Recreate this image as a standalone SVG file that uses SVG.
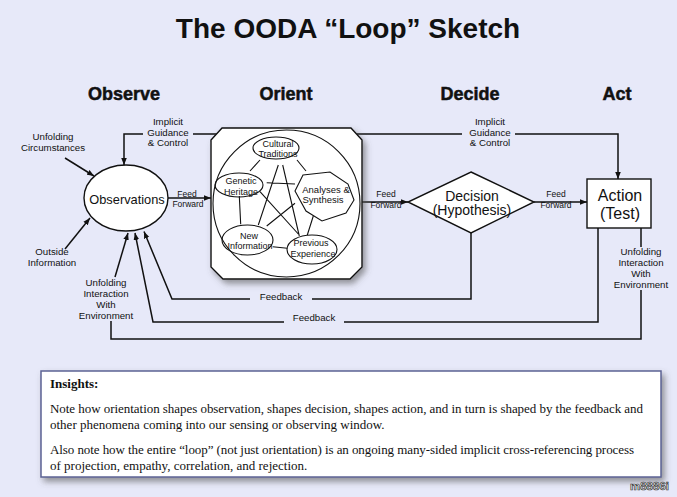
<svg xmlns="http://www.w3.org/2000/svg" width="677" height="497" viewBox="0 0 677 497">
<defs>
<style>
.t{font-family:"Liberation Sans",Arial,sans-serif;fill:#111;text-anchor:middle}
.lbl{font-size:9.7px}
.ff{font-size:8.5px}
.hdr{font-size:18px;font-weight:bold;stroke:#111;stroke-width:0.5}
.in{font-size:9px}
.ins{font-family:"Liberation Serif","Times New Roman",serif;font-size:13px;fill:#111}
.ln{fill:none;stroke:#111;stroke-width:1.5}
.arr{marker-end:url(#ah)}
.shp{fill:#fff;stroke:#111;stroke-width:1.4}
.thin{fill:none;stroke:#111;stroke-width:1.1}
</style>
<marker id="ah" viewBox="0 0 10 10" refX="10" refY="5" markerWidth="7" markerHeight="7" orient="auto" markerUnits="userSpaceOnUse">
<path d="M0,1 L10,5 L0,9 z" fill="#111"/>
</marker>
<filter id="sh" x="-10%" y="-10%" width="130%" height="130%">
<feDropShadow dx="3" dy="4" stdDeviation="3" flood-color="#555" flood-opacity="0.6"/>
</filter>
</defs>
<rect width="677" height="497" fill="#E7E9F9"/>
<text class="t" x="348" y="38" font-size="28" font-weight="bold">The OODA “Loop” Sketch</text>
<g id="headers">
<text class="t hdr" x="124" y="100">Observe</text>
<text class="t hdr" x="286" y="100">Orient</text>
<text class="t hdr" x="470" y="100">Decide</text>
<text class="t hdr" x="617" y="100">Act</text>
</g>
<g id="connectors">
<path class="ln" d="M217,134 H193"/>
<path class="ln arr" d="M143,134 H124 V165"/>
<path class="ln" d="M357,134 H462"/>
<path class="ln arr" d="M515,134 H618 V179"/>
<path class="ln arr" d="M168,198 H211"/>
<path class="ln arr" d="M362,202 H408"/>
<path class="ln arr" d="M534,202 H587"/>
<path class="ln arr" d="M65,158 L94,176"/>
<path class="ln arr" d="M65,249 L90,218"/>
<path class="ln" d="M471,233 V299 H312"/>
<path class="ln arr" d="M250,299 H172 L144,231.5"/>
<path class="ln" d="M598,228 V322 H344"/>
<path class="ln arr" d="M284,322 H153 L135,233"/>
<path class="ln" d="M641,228 V247"/>
<path class="ln" d="M641,290 V339 H111 V321"/>
<path class="ln arr" d="M115,277 L128,233"/>
<text class="t lbl" x="168" y="124.5">Implicit</text>
<text class="t lbl" x="168" y="135.5">Guidance</text>
<text class="t lbl" x="168" y="146">&amp; Control</text>
<text class="t lbl" x="490" y="124.5">Implicit</text>
<text class="t lbl" x="490" y="135.5">Guidance</text>
<text class="t lbl" x="490" y="146">&amp; Control</text>
<text class="t ff" x="187" y="197">Feed</text>
<text class="t ff" x="188" y="207">Forward</text>
<text class="t ff" x="386" y="197">Feed</text>
<text class="t ff" x="386" y="208">Forward</text>
<text class="t ff" x="556" y="197">Feed</text>
<text class="t ff" x="556" y="208">Forward</text>
<text class="t lbl" x="53" y="139.5">Unfolding</text>
<text class="t lbl" x="53" y="150.5">Circumstances</text>
<text class="t lbl" x="52" y="254.5">Outside</text>
<text class="t lbl" x="52" y="265.5">Information</text>
<text class="t lbl" x="106" y="286">Unfolding</text>
<text class="t lbl" x="106" y="297">Interaction</text>
<text class="t lbl" x="106" y="307.5">With</text>
<text class="t lbl" x="106" y="318.5">Environment</text>
<text class="t lbl" x="641" y="255">Unfolding</text>
<text class="t lbl" x="641" y="266">Interaction</text>
<text class="t lbl" x="641" y="276.5">With</text>
<text class="t lbl" x="641" y="287.5">Environment</text>
<text class="t lbl" x="281" y="299.5">Feedback</text>
<text class="t lbl" x="314" y="321">Feedback</text>
</g>
<g id="observations">
<ellipse class="shp" cx="126" cy="198" rx="42" ry="33"/>
<text class="t" x="127" y="204" font-size="12.8">Observations</text>
</g>
<g id="orient">
<path class="shp" filter="url(#sh)" d="M222,128 H351 L362,140 V267 L350,279 H223 L211,267 V140 Z"/>
<circle class="thin" cx="286.5" cy="203.5" r="73.5"/>
<g id="orient-links">
<path class="thin" d="M260,160 L250,171 M297,160 L306,171 M278.3,165 L258.3,225 M282.7,165 L299.3,236 M266.7,182.7 L295,184 M239.3,196 L240.7,224.3 M260,191.7 L298.3,234 M295,203.3 L266.7,226 M313.3,216 L307.3,235 M272.7,246.7 L287.3,248.3"/>
</g>
<g id="cultural-traditions">
<ellipse class="thin" cx="276" cy="148" rx="23" ry="11"/>
<text class="t in" x="278" y="146.5">Cultural</text>
<text class="t in" x="278" y="156.5">Traditions</text>
</g>
<g id="genetic-heritage">
<ellipse class="thin" cx="239" cy="185" rx="24" ry="12"/>
<text class="t in" x="241" y="183.5">Genetic</text>
<text class="t in" x="241" y="194.5">Heritage</text>
</g>
<g id="analyses-synthesis">
<path class="thin" d="M303,175 L330,172 L348,184 L354,200 L346,213 L322,221 L306,211 L295,191 Z"/>
<text class="t" x="326" y="192.5" font-size="9.5">Analyses &amp;</text>
<text class="t" x="323" y="203" font-size="9.5">Synthesis</text>
</g>
<g id="new-information">
<ellipse class="thin" cx="247.5" cy="240" rx="25.5" ry="15"/>
<text class="t in" x="249" y="238.5">New</text>
<text class="t in" x="250" y="248.5">Information</text>
</g>
<g id="previous-experience">
<ellipse class="thin" cx="312" cy="249.5" rx="25" ry="14.5"/>
<text class="t in" x="311" y="246">Previous</text>
<text class="t in" x="313" y="256.5">Experience</text>
</g>
</g>
<g id="decision">
<path class="shp" d="M471,172 L534,202 L471,233 L408,202 Z"/>
<text class="t" x="472" y="200.5" font-size="14">Decision</text>
<text class="t" x="472" y="215" font-size="14">(Hypothesis)</text>
</g>
<g id="action">
<rect class="shp" x="587" y="179" width="64" height="49"/>
<text class="t" x="620" y="200.5" font-size="16">Action</text>
<text class="t" x="620" y="219" font-size="16">(Test)</text>
</g>
<g id="insights">
<rect x="41" y="371" width="620" height="106" fill="#fff" stroke="#5C6394" stroke-width="1.5" filter="url(#sh)"/>
<text class="ins" x="50" y="388" font-weight="bold">Insights:</text>
<text class="ins" x="50" y="413" textLength="593" lengthAdjust="spacing">Note how orientation shapes observation, shapes decision, shapes action, and in turn is shaped by the feedback and</text>
<text class="ins" x="50" y="429">other phenomena coming into our sensing or observing window.</text>
<text class="ins" x="50" y="454" textLength="584" lengthAdjust="spacing">Also note how the entire “loop” (not just orientation) is an ongoing many-sided implicit cross-referencing process</text>
<text class="ins" x="50" y="470">of projection, empathy, correlation, and rejection.</text>
</g>
<text x="669" y="490" font-family="Liberation Sans,Arial,sans-serif" font-size="11.5" font-weight="bold" text-anchor="end" fill="#fff" stroke="#333" stroke-width="0.7">m8886i</text>
</svg>
